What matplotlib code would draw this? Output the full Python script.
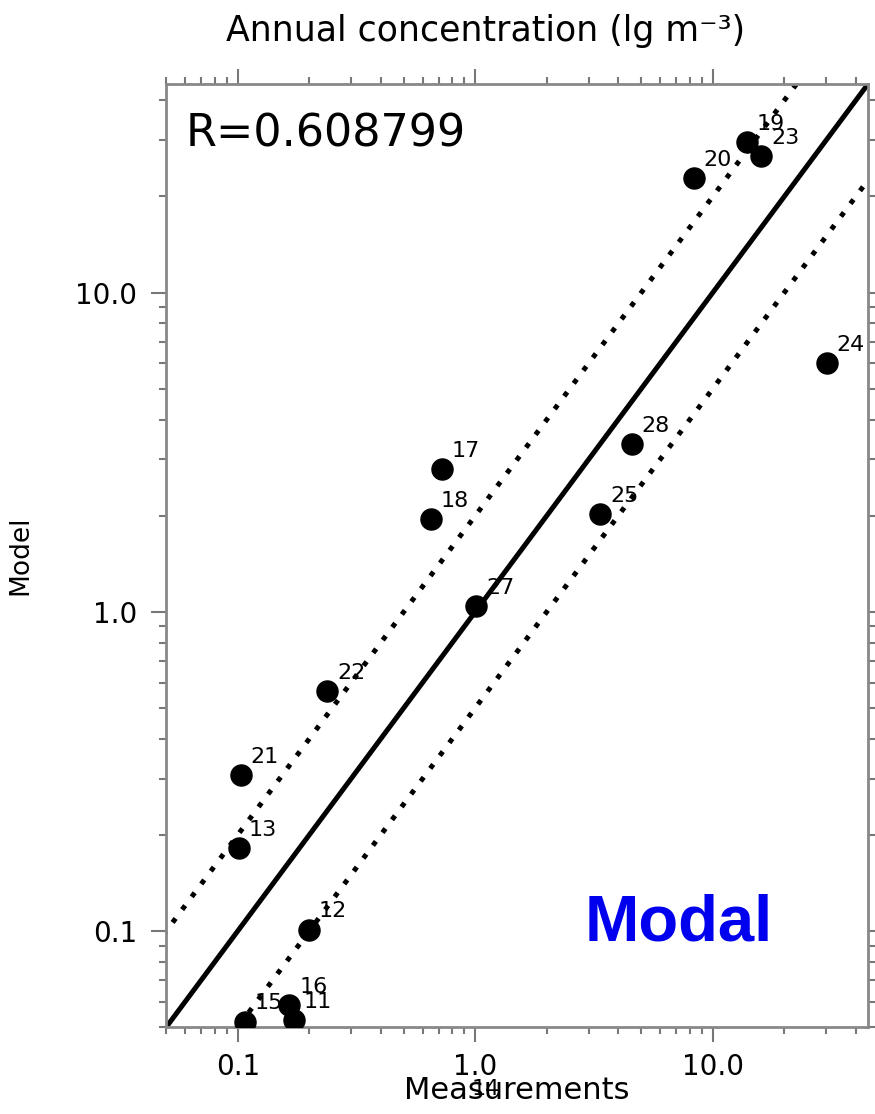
import matplotlib.pyplot as plt
from matplotlib.ticker import FixedLocator, FixedFormatter, LogLocator, NullFormatter

FontSize = 20

# station id, measured, modelled
stations = ['19', '23', '20', '24', '28', '25', '17', '18', '27', '22', '21', '13', '12', '16', '15', '11', '14']
measured = [13.9, 16.0, 8.3, 30.1, 4.57, 3.36, 0.724, 0.650, 1.01, 0.238, 0.103, 0.101, 0.199, 0.165, 0.107, 0.172, 0.88]
modelled = [29.6, 26.8, 22.8, 6.02, 3.35, 2.02, 2.80, 1.95, 1.04, 0.565, 0.307, 0.182, 0.101, 0.0585, 0.052, 0.0525, 0.028]

r_value = 0.608799
lims = [0.05, 45.0]
tick_vals = [0.1, 1.0, 10.0]
tick_labels = ['0.1', '1.0', '10.0']

fig = plt.figure(figsize=(8.75, 11.14), dpi=100)
ax = fig.add_axes([0.190, 0.078, 0.802, 0.8466])
ax.set_xscale('log')
ax.set_yscale('log')

# 1:1 line and factor-of-two lines
line_x = [0.01, 1000]
ax.plot(line_x, line_x, color='black', lw=3.6, solid_capstyle='butt')
ax.plot(line_x, [v * 2 for v in line_x], color='black', lw=3.6, linestyle=(0, (1, 2.2)))
ax.plot(line_x, [v / 2 for v in line_x], color='black', lw=3.6, linestyle=(0, (1, 2.2)))

ax.scatter(measured, modelled, s=230, color='black', zorder=5)
for name, mx, my in zip(stations, measured, modelled):
    ax.annotate(name, (mx, my), xytext=(7, 6), textcoords='offset points',
                fontsize=16, ha='left', va='bottom', annotation_clip=False)

ax.set_xlim(lims)
ax.set_ylim(lims)

for axis in (ax.xaxis, ax.yaxis):
    axis.set_major_locator(FixedLocator(tick_vals))
    axis.set_major_formatter(FixedFormatter(tick_labels))
    axis.set_minor_locator(LogLocator(base=10, subs=range(2, 10)))
    axis.set_minor_formatter(NullFormatter())

ax.tick_params(which='both', direction='out', top=True, right=True, color='#777777', width=1.5)
ax.tick_params(which='major', length=11, labelsize=FontSize, pad=8)
ax.tick_params(which='minor', length=5)
ax.tick_params(axis='y', which='major', pad=10)
for sp in ax.spines.values():
    sp.set_color('#888888')
    sp.set_linewidth(2)

ax.set_xlabel('Measurements', fontsize=22, labelpad=-4)
ax.set_ylabel('Model', fontsize=19)
ax.yaxis.set_label_coords(-0.19, 0.5)
fig.text(0.555, 0.972, 'Annual concentration (lg m⁻³)', fontsize=25, ha='center', va='center')

ax.text(0.027, 0.97, 'R=%.6f' % r_value, transform=ax.transAxes, fontsize=32, ha='left', va='top')
ax.text(0.73, 0.11, 'Modal', transform=ax.transAxes, fontsize=47, fontweight='bold',
        color='#0000ee', family='Liberation Sans', ha='center', va='center')

plt.savefig('out.png', dpi=100)
